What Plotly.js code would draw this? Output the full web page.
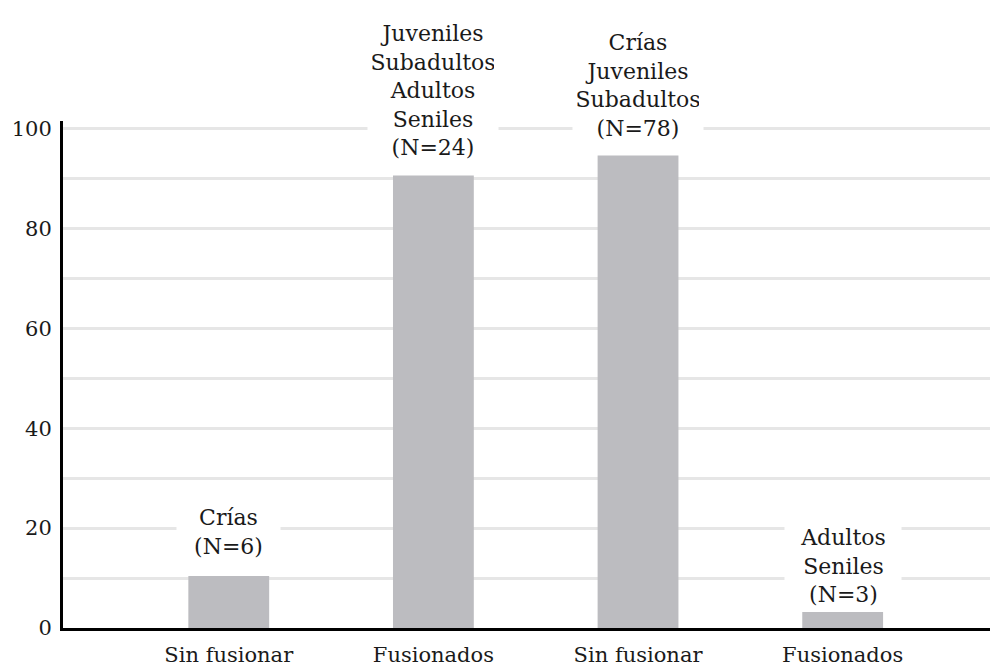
<!DOCTYPE html>
<html>
<head>
<meta charset="utf-8">
<script src="https://cdn.plot.ly/plotly-3.0.1.min.js"></script>
<style>html,body{margin:0;padding:0;background:#fff;}#chart{width:990px;height:668px;}</style>
</head>
<body>
<div id="chart"></div>
<script>
// Data
var categories = ["Sin fusionar", "Fusionados", "Sin fusionar", "Fusionados"];
var values = [10.4, 90.6, 94.6, 3.2];
var barLabels = [
  ["Crías", "(N=6)"],
  ["Juveniles", "Subadultos", "Adultos", "Seniles", "(N=24)"],
  ["Crías", "Juveniles", "Subadultos", "(N=78)"],
  ["Adultos", "Seniles", "(N=3)"]
];
var yTicks = [0, 20, 40, 60, 80, 100];

// Styling (label box widths and vertical offsets in pixels)
var labelBoxWidth = [95, 122, 122, 108];
var labelShift = [12, 10, 9, 0];

var positions = categories.map(function (c, i) { return i; });
var FONT = "DejaVu Serif";

var trace = {
  type: "bar",
  x: positions,
  y: values,
  width: 0.395,
  marker: { color: "#bcbcc0", line: { width: 0 } },
  hoverinfo: "skip"
};

var annotations = values.map(function (v, i) {
  return {
    x: positions[i],
    y: v,
    xref: "x",
    yref: "y",
    text: barLabels[i].join("<br>"),
    showarrow: false,
    xanchor: "center",
    yanchor: "bottom",
    yshift: labelShift[i],
    width: labelBoxWidth[i],
    align: "center",
    bgcolor: "#ffffff",
    borderpad: 4,
    font: { family: FONT, size: 22, color: "#1a1a1a" }
  };
});

var layout = {
  width: 990,
  height: 668,
  margin: { l: 63, r: 0, t: 121, b: 40 },
  paper_bgcolor: "#ffffff",
  plot_bgcolor: "#ffffff",
  showlegend: false,
  font: { family: FONT },
  xaxis: {
    range: [-0.81, 3.72],
    tickmode: "array",
    tickvals: positions,
    ticktext: categories,
    showgrid: false,
    zeroline: false,
    showline: true,
    linecolor: "#000000",
    linewidth: 3,
    ticks: "outside",
    ticklen: 6,
    tickcolor: "rgba(0,0,0,0)",
    tickfont: { family: FONT, size: 21, color: "#1a1a1a" }
  },
  yaxis: {
    range: [0, 101.5],
    tickmode: "array",
    tickvals: yTicks,
    ticktext: yTicks.map(String),
    showgrid: true,
    gridcolor: "#e6e6e6",
    gridwidth: 3,
    minor: { dtick: 10, showgrid: true, gridcolor: "#e6e6e6", gridwidth: 3, tickmode: "linear", tick0: 0 },
    zeroline: false,
    showline: true,
    linecolor: "#000000",
    linewidth: 3,
    ticks: "outside",
    ticklen: 4,
    tickcolor: "rgba(0,0,0,0)",
    tickfont: { family: FONT, size: 21, color: "#1a1a1a" }
  },
  annotations: annotations
};

Plotly.newPlot("chart", [trace], layout, { displayModeBar: false, staticPlot: true });
</script>
</body>
</html>
